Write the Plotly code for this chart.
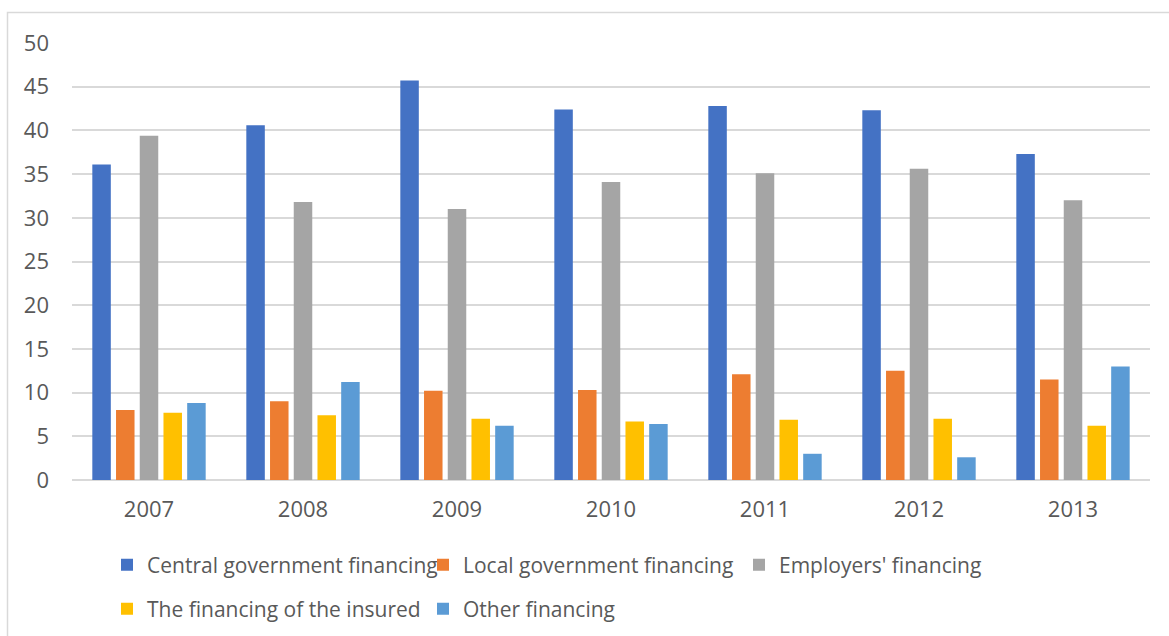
import plotly.graph_objects as go

# Financing sources by year (values in %)
years = ["2007", "2008", "2009", "2010", "2011", "2012", "2013"]
central_gov = [36.1, 40.6, 45.7, 42.4, 42.8, 42.3, 37.3]
local_gov = [8.0, 9.0, 10.2, 10.3, 12.1, 12.5, 11.5]
employers = [39.4, 31.8, 31.0, 34.1, 35.1, 35.6, 32.0]
insured = [7.7, 7.4, 7.0, 6.7, 6.9, 7.0, 6.2]
other = [8.8, 11.2, 6.2, 6.4, 3.0, 2.6, 13.0]

series_names = [
    "Central government financing",
    "Local government financing",
    "Employers' financing",
    "The financing of the insured",
    "Other financing",
]
series_values = [central_gov, local_gov, employers, insured, other]
series_colors = ["#4472C4", "#ED7D31", "#A5A5A5", "#FFC000", "#5B9BD5"]
series_legends = ["legend", "legend", "legend", "legend2", "legend2"]

y_ticks = [0, 5, 10, 15, 20, 25, 30, 35, 40, 45, 50]

W, H = 1169, 636
M_L, M_R, M_T, M_B = 72, 19, 43, 156
PW = W - M_L - M_R
PH = H - M_T - M_B


def px_x(px):
    return (px - M_L) / PW


def px_y(py):
    return (H - M_B - py) / PH


FONT = "Open Sans"
TXT = "#595959"
GRID = "#d9d9d9"

fig = go.Figure()
for name, vals, col, lg in zip(series_names, series_values, series_colors, series_legends):
    fig.add_trace(go.Bar(
        name=name, x=years, y=vals,
        marker=dict(color=col, line=dict(width=0)),
        legend=lg,
    ))

legend_common = dict(
    orientation="h",
    font=dict(family=FONT, size=21, color=TXT),
    bgcolor="rgba(0,0,0,0)",
    entrywidth=271,
    entrywidthmode="pixels",
    xanchor="left",
    yanchor="middle",
    itemclick=False,
    itemdoubleclick=False,
)

fig.update_layout(
    width=W, height=H,
    margin=dict(l=M_L, r=M_R, t=M_T, b=M_B, pad=0, autoexpand=False),
    paper_bgcolor="white",
    plot_bgcolor="white",
    barmode="group",
    bargap=0.23,
    bargroupgap=0.22,
    font=dict(family=FONT, size=21, color=TXT),
    xaxis=dict(
        showgrid=False,
        showline=False,
        ticks="",
        automargin=False,
        tickfont=dict(family=FONT, size=22, color=TXT),
        ticklabelstandoff=14,
    ),
    yaxis=dict(
        range=[0, 50],
        tickvals=y_ticks,
        showgrid=True,
        gridcolor=GRID,
        gridwidth=1.5,
        zeroline=True,
        zerolinecolor=GRID,
        zerolinewidth=1.5,
        showline=False,
        ticks="",
        automargin=False,
        tickfont=dict(family=FONT, size=22, color=TXT),
        ticklabelstandoff=22,
    ),
    legend=dict(x=px_x(107), y=px_y(565), **legend_common),
    legend2=dict(x=px_x(107), y=px_y(609), **legend_common),
    shapes=[
        dict(
            type="path", xref="paper", yref="paper",
            path=(f"M {px_x(7.5)},{px_y(640)} L {px_x(7.5)},{px_y(12.5)} "
                  f"L {px_x(1172)},{px_y(12.5)}"),
            line=dict(color=GRID, width=1.5),
        )
    ],
)

fig.write_html("out.html")
